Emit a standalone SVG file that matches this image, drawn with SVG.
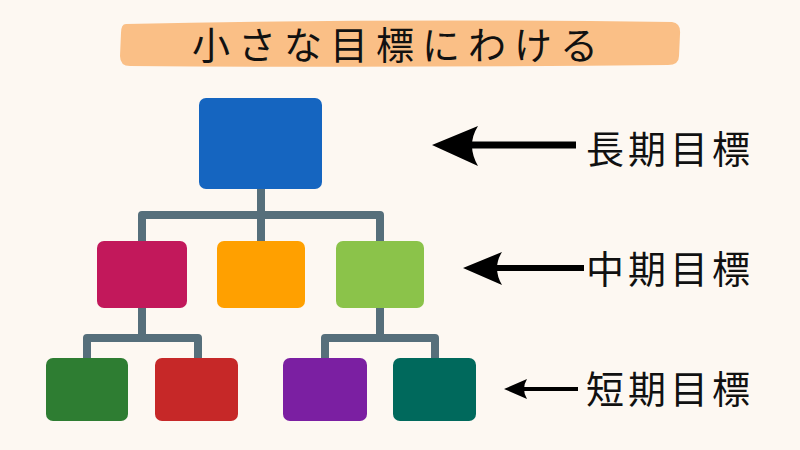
<svg xmlns="http://www.w3.org/2000/svg" width="800" height="450" viewBox="0 0 800 450">
<style>
.conn{fill:none;stroke:#566F7B;stroke-width:8;stroke-linejoin:round}
.lbl{font-family:"Noto Sans CJK JP","Noto Sans",sans-serif;font-size:38px;fill:#111;letter-spacing:4px}
.title{font-family:"Noto Sans CJK JP","Noto Sans",sans-serif;font-size:38px;fill:#111;letter-spacing:8px}
.arr{fill:none;stroke:#000}
.head{fill:#000}
</style>
<rect width="800" height="450" fill="#FDF8F2"/>
<g id="title">
<path d="M126,24 Q400,18 672,22 Q681,23 680,34 L679,56 Q679,65 668,65 Q400,68 130,66 Q120,66 120,56 L121,33 Q121,24 126,24 Z" fill="#FABF86"/>
<text class="title" x="192" y="59">小さな目標にわける</text>
</g>
<g id="connectors">
<path class="conn" d="M261,188 V215 M142,241 V215 H380 V241 M261,215 V241"/>
<path class="conn" d="M142,308 V338 M87,358 V338 H198 V358"/>
<path class="conn" d="M380,308 V338 M325,358 V338 H435 V358"/>
</g>
<g id="node-top"><rect x="199" y="98" width="123" height="91" rx="7" fill="#1565C0"/></g>
<g id="node-mid1"><rect x="97" y="241" width="90" height="67" rx="7" fill="#C2185B"/></g>
<g id="node-mid2"><rect x="217" y="241" width="88" height="67" rx="7" fill="#FFA000"/></g>
<g id="node-mid3"><rect x="336" y="241" width="88" height="67" rx="7" fill="#8BC34A"/></g>
<g id="node-low1"><rect x="46" y="358" width="82" height="63" rx="7" fill="#2E7D32"/></g>
<g id="node-low2"><rect x="155" y="358" width="83" height="63" rx="7" fill="#C62828"/></g>
<g id="node-low3"><rect x="283" y="358" width="84" height="63" rx="7" fill="#7B1FA2"/></g>
<g id="node-low4"><rect x="393" y="358" width="83" height="63" rx="7" fill="#00695C"/></g>
<g id="label-long">
<path class="arr" stroke-width="7" d="M470,145 H576"/>
<path class="head" d="M432,145 L478,126 Q466,145 478,166 Z"/>
<text class="lbl" x="586" y="163">長期目標</text>
</g>
<g id="label-mid">
<path class="arr" stroke-width="6" d="M495,268 H584"/>
<path class="head" d="M463,268 L502,252 Q492,268 502,285 Z"/>
<text class="lbl" x="586" y="283">中期目標</text>
</g>
<g id="label-short">
<path class="arr" stroke-width="4" d="M520,389 H578"/>
<path class="head" d="M504,389 L527,379 Q521,389 527,399 Z"/>
<text class="lbl" x="586" y="403">短期目標</text>
</g>
</svg>
